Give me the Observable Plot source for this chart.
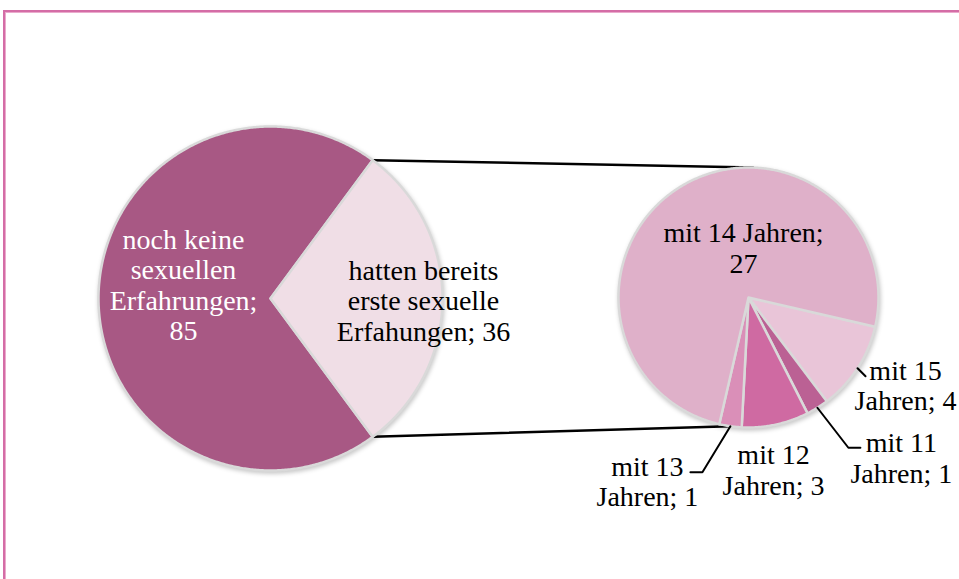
<!DOCTYPE html>
<html><head><meta charset="utf-8">
<script src="https://cdn.jsdelivr.net/npm/d3@7"></script>
<script src="https://cdn.jsdelivr.net/npm/@observablehq/plot@0.6"></script>
<style>
html,body{margin:0;padding:0;background:#fff;}
#wrap{position:relative;width:959px;height:579px;overflow:hidden;}
#frame{position:absolute;left:3px;top:10px;width:1000px;height:600px;border-top:2px solid #D46DA6;border-left:2px solid #D46DA6;box-shadow:inset 1px 1px 0 #EAAACC;}
#chart{position:absolute;left:0;top:0;}
#chart svg g.pie{filter:drop-shadow(1px 2px 2px rgba(0,0,0,0.22));}
</style></head><body>
<div id="wrap"><div id="frame"></div><div id="chart"></div></div>
<script>
// ---- data ----
const mainCategories = ["noch keine\nsexuellen\nErfahrungen", "hatten bereits\nerste sexuelle\nErfahungen"];
const mainValues = [85, 36];
const mainSeparators = [";\n", "; "];
const mainColors = ["#A85884", "#F0DEE6"];
const mainTextColors = ["#FFFFFF", "#000000"];

const subCategories = ["mit 15\nJahren", "mit 11\nJahren", "mit 12\nJahren", "mit 13\nJahren", "mit 14 Jahren"];
const subValues = [4, 1, 3, 1, 27];
const subSeparators = ["; ", "; ", "; ", "; ", ";\n"];
const subColors = ["#E9C5D8", "#BB6194", "#CF6AA2", "#DA8FB8", "#DFB0C9"];

// ---- layout ----
const W = 959, H = 579;
const mainPie = {cx: 270, cy: 298, r: 172};
const subPie = {cx: 748, cy: 297, r: 130, start: 103};
const connectorEnds = [2, 188]; // degrees on the second pie
// label placement: anchor "center" = pie centre, "mid" = slice mid-point on rim; offsets in px
const mainLabelLayout = [
  {anchor: "center", dx: -87, dy: -14},
  {anchor: "center", dx: 153, dy: 2}
];
const subLabelLayout = [
  {anchor: "mid", dx: 48, dy: 17, leader: [[8, 8]]},
  {anchor: "mid", dx: 84, dy: 50, leader: [[31, 40], [43, 40]]},
  {anchor: "mid", dx: -2, dy: 45},
  {anchor: "mid", dx: -83, dy: 55, leader: [[-28, 46], [-40, 46]]},
  {anchor: "center", dx: -5, dy: -50}
];

function pt(pie, deg) {
  const a = deg * Math.PI / 180;
  return [pie.cx + pie.r * Math.sin(a), pie.cy - pie.r * Math.cos(a)];
}

function buildPie(pie, values, cats, colors, startDeg, key) {
  const total = d3.sum(values);
  let a = startDeg;
  const rows = [], slices = [];
  values.forEach((v, i) => {
    const span = v / total * 360;
    const a0 = a, a1 = a + span;
    a = a1;
    const n = Math.max(2, Math.ceil(span / 0.5));
    rows.push({slice: key + i, x: pie.cx, y: pie.cy, fill: colors[i]});
    for (let k = 0; k <= n; k++) {
      const [x, y] = pt(pie, a0 + span * k / n);
      rows.push({slice: key + i, x, y, fill: colors[i]});
    }
    slices.push({i, a0, a1, mid: (a0 + a1) / 2});
  });
  return {rows, slices};
}

const mainTotal = d3.sum(mainValues);
const th0 = mainValues[0] / mainTotal * 360, th1 = mainValues[1] / mainTotal * 360;
const mainStart = 90 - th0 - th1 / 2; // second slice centred to the right
const M = buildPie(mainPie, mainValues, mainCategories, mainColors, mainStart, "m");
const S = buildPie(subPie, subValues, subCategories, subColors, subPie.start, "s");

// connectors
const otherSlice = M.slices[1];
const connectors = [
  [pt(mainPie, otherSlice.a0), pt(subPie, connectorEnds[0])],
  [pt(mainPie, otherSlice.a1), pt(subPie, connectorEnds[1])]
].flatMap((seg, j) => seg.map(([x, y]) => ({seg: j, x, y})));

// labels
const labels = [];
const leaders = [];
mainCategories.forEach((c, i) => {
  const L = mainLabelLayout[i];
  const base = L.anchor === "center" ? [mainPie.cx, mainPie.cy] : pt(mainPie, M.slices[i].mid);
  labels.push({x: base[0] + L.dx, y: base[1] + L.dy, text: c + mainSeparators[i] + mainValues[i], color: mainTextColors[i]});
});
subCategories.forEach((c, i) => {
  const L = subLabelLayout[i];
  const base = L.anchor === "center" ? [subPie.cx, subPie.cy] : pt(subPie, S.slices[i].mid);
  labels.push({x: base[0] + L.dx, y: base[1] + L.dy, text: c + subSeparators[i] + subValues[i], color: "#000000"});
  if (L.leader) {
    leaders.push({id: i, x: base[0], y: base[1]});
    L.leader.forEach(([ox, oy]) => leaders.push({id: i, x: base[0] + ox, y: base[1] + oy}));
  }
});

const chart = Plot.plot({
  width: W, height: H,
  margin: 0,
  x: {domain: [0, W], range: [0, W], axis: null},
  y: {domain: [0, H], range: [0, H], axis: null},
  style: {background: "transparent", fontFamily: "'Liberation Serif', serif", overflow: "visible"},
  marks: [
    Plot.line(connectors, {x: "x", y: "y", z: "seg", stroke: "#000", strokeWidth: 2.5}),
    Plot.line(M.rows, {x: "x", y: "y", z: "slice", fill: "fill", stroke: "#D9D9D9", strokeWidth: 2.5, curve: "linear-closed", strokeLinejoin: "round"}),
    Plot.line(S.rows, {x: "x", y: "y", z: "slice", fill: "fill", stroke: "#D9D9D9", strokeWidth: 2.5, curve: "linear-closed", strokeLinejoin: "round"}),
    Plot.line(leaders, {x: "x", y: "y", z: "id", stroke: "#000", strokeWidth: 2}),
    Plot.text(labels, {x: "x", y: "y", text: "text", fill: "color", fontSize: 28, lineHeight: 1.09, textAnchor: "middle", lineAnchor: "middle", fontFamily: "'Liberation Serif', serif"})
  ]
});
// soft shadow under the two pies (marks 2 and 3)
const groups = chart.querySelectorAll(":scope > g");
if (groups[1]) groups[1].classList.add("pie");
if (groups[2]) groups[2].classList.add("pie");
document.getElementById("chart").appendChild(chart);
</script>
</body></html>
